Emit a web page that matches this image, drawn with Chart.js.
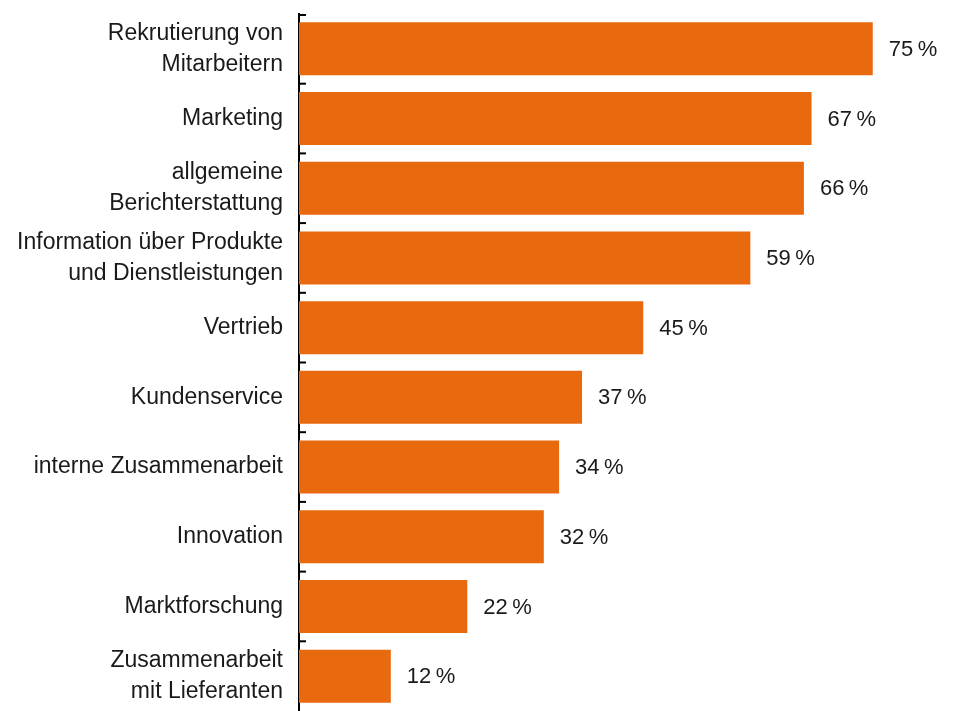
<!DOCTYPE html>
<html>
<head>
<meta charset="utf-8">
<script src="https://cdn.jsdelivr.net/npm/chart.js@4"></script>
<style>
  body { margin: 0; background: #fff; }
  #wrap { width: 958px; height: 711px; }
</style>
</head>
<body>
<div id="wrap"><canvas id="chart"></canvas></div>
<script>
const categories = [
    ['Rekrutierung von', 'Mitarbeitern'],
    'Marketing',
    ['allgemeine', 'Berichterstattung'],
    ['Information über Produkte', 'und Dienstleistungen'],
    'Vertrieb',
    'Kundenservice',
    'interne Zusammenarbeit',
    'Innovation',
    'Marktforschung',
    ['Zusammenarbeit', 'mit Lieferanten']
];
const values = [75, 67, 66, 59, 45, 37, 34, 32, 22, 12];

const barColor = '#e8690e';
const fontFamily = '"Liberation Sans", Arial, sans-serif';

// short tick marks on the inside of the axis, between categories
const innerTicks = {
    id: 'innerTicks',
    afterDraw(chart) {
        const ctx = chart.ctx;
        const y = chart.scales.y;
        const x0 = chart.chartArea.left - 1;
        ctx.save();
        ctx.strokeStyle = '#000';
        ctx.lineWidth = 2;
        for (let i = 0; i < values.length; i++) {
            const yy = i === 0
                ? chart.chartArea.top + 1
                : (y.getPixelForValue(i - 1) + y.getPixelForValue(i)) / 2;
            ctx.beginPath();
            ctx.moveTo(x0, yy);
            ctx.lineTo(x0 + 8, yy);
            ctx.stroke();
        }
        ctx.restore();
    }
};

// value labels after each bar
const valueLabels = {
    id: 'valueLabels',
    afterDatasetsDraw(chart) {
        const ctx = chart.ctx;
        const meta = chart.getDatasetMeta(0);
        ctx.save();
        ctx.fillStyle = '#1a1a1a';
        ctx.font = '22px ' + fontFamily;
        ctx.textAlign = 'left';
        ctx.textBaseline = 'middle';
        meta.data.forEach((bar, i) => {
            ctx.fillText(values[i] + '\u202F%', bar.x + 16, bar.y + 1);
        });
        ctx.restore();
    }
};

new Chart(document.getElementById('chart'), {
    type: 'bar',
    data: {
        labels: categories,
        datasets: [{
            data: values,
            backgroundColor: barColor,
            borderWidth: 0,
            barPercentage: 0.76,
            categoryPercentage: 1
        }]
    },
    options: {
        indexAxis: 'y',
        responsive: true,
        maintainAspectRatio: false,
        animation: false,
        layout: { padding: { top: 14, right: 47, bottom: 0, left: 0 } },
        plugins: { legend: { display: false }, tooltip: { enabled: false } },
        scales: {
            x: { display: false, min: 0, max: 80 },
            y: {
                afterFit: (scale) => {
                    scale.width = 299;
                    scale.paddingTop = 0;
                    scale.paddingBottom = 0;
                },
                grid: { display: true, drawOnChartArea: false, drawTicks: false },
                border: { display: true, color: '#000', width: 2 },
                ticks: {
                    padding: 16,
                    color: '#1a1a1a',
                    font: { family: fontFamily, size: 23, lineHeight: 1.35 }
                }
            }
        }
    },
    plugins: [innerTicks, valueLabels]
});
</script>
</body>
</html>
